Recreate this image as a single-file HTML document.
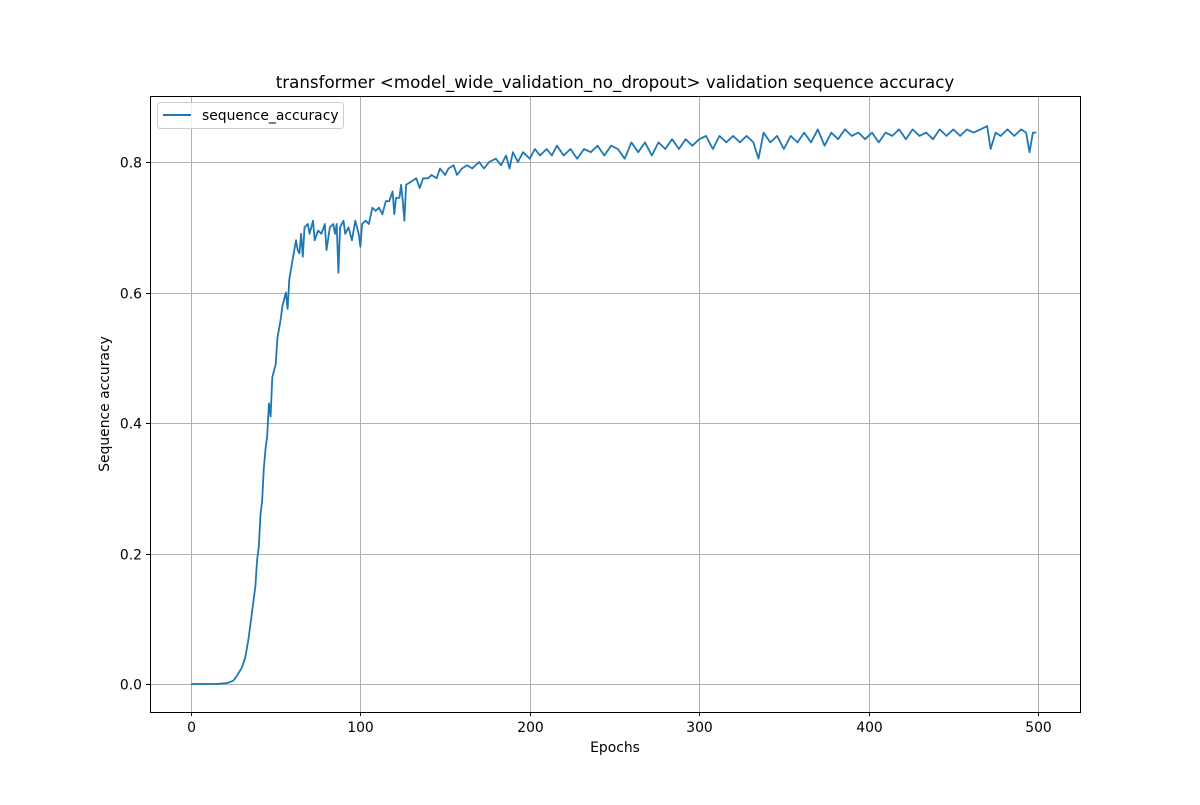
<!DOCTYPE html>
<html><head><meta charset="utf-8"><style>body{margin:0;background:#fff}svg text{font-family:"DejaVu Sans","Liberation Sans",sans-serif}</style></head>
<body>
<svg id="chart" width="1200" height="800">
<rect width="1200" height="800" fill="#fff"/>
<g id="grid"></g>
<path id="line" fill="none" stroke="#1f77b4" stroke-width="1.8" stroke-linejoin="round"/>
<rect x="150.5" y="96.5" width="930" height="616" fill="none" stroke="#000" stroke-width="1"/>
<g id="ticks"></g>
<text x="615" y="88" font-size="16.7" text-anchor="middle">transformer &lt;model_wide_validation_no_dropout&gt; validation sequence accuracy</text>
<text x="615" y="752" font-size="13.9" text-anchor="middle">Epochs</text>
<text transform="translate(109,404) rotate(-90)" font-size="13.9" text-anchor="middle">Sequence accuracy</text>
<g>
<rect x="157.5" y="102.5" width="186" height="26" rx="3" fill="#fff" fill-opacity="0.8" stroke="#ccc"/>
<line x1="163" y1="115" x2="191" y2="115" stroke="#1f77b4" stroke-width="2"/>
<text x="202" y="120" font-size="13.9">sequence_accuracy</text>
</g>
</svg>
<script>
const epochs=[0,5,10,15,20,22,25,27,30,32,34,36,38,39,40,41,42,43,44,45,46,47,48,50,51,53,54,56,57,58,60,62,63,64,65,66,67,69,70,72,73,75,77,79,80,82,84,85,86,87,88,90,91,93,95,97,99,100,101,103,105,107,109,111,113,115,117,119,120,121,123,124,125,126,127,130,133,135,137,140,142,145,147,150,152,155,157,160,163,166,170,173,176,180,183,186,188,190,193,196,200,203,206,210,213,216,220,224,228,232,236,240,244,248,252,256,260,264,268,272,276,280,284,288,292,296,300,304,308,312,316,320,324,328,332,335,338,342,346,350,354,358,362,366,370,374,378,382,386,390,394,398,402,406,410,414,418,422,426,430,434,438,442,446,450,454,458,462,466,470,472,475,478,482,486,490,493,495,497,499];
const accuracy=[0,0,0,0,0.001,0.002,0.005,0.012,0.025,0.04,0.07,0.11,0.15,0.19,0.21,0.26,0.28,0.33,0.36,0.38,0.43,0.41,0.47,0.49,0.53,0.56,0.58,0.60,0.575,0.62,0.65,0.68,0.665,0.66,0.69,0.655,0.70,0.705,0.69,0.71,0.68,0.695,0.69,0.705,0.665,0.70,0.705,0.69,0.705,0.63,0.70,0.71,0.69,0.70,0.68,0.71,0.69,0.67,0.705,0.71,0.705,0.73,0.725,0.73,0.72,0.74,0.74,0.755,0.72,0.745,0.745,0.765,0.74,0.71,0.765,0.77,0.775,0.76,0.775,0.775,0.78,0.775,0.79,0.78,0.79,0.795,0.78,0.79,0.795,0.79,0.80,0.79,0.80,0.805,0.795,0.81,0.79,0.815,0.80,0.815,0.805,0.82,0.81,0.82,0.81,0.825,0.81,0.82,0.805,0.82,0.815,0.825,0.81,0.825,0.82,0.805,0.83,0.815,0.83,0.81,0.83,0.82,0.835,0.82,0.835,0.825,0.835,0.84,0.82,0.84,0.83,0.84,0.83,0.84,0.83,0.805,0.845,0.83,0.84,0.82,0.84,0.83,0.845,0.83,0.85,0.825,0.845,0.835,0.85,0.84,0.845,0.835,0.845,0.83,0.845,0.84,0.85,0.835,0.85,0.84,0.845,0.835,0.85,0.84,0.85,0.84,0.85,0.845,0.85,0.855,0.82,0.845,0.84,0.85,0.84,0.85,0.845,0.815,0.845,0.845];
const xTicks=[0,100,200,300,400,500];
const yTicks=[0.0,0.2,0.4,0.6,0.8];
const NS='http://www.w3.org/2000/svg';
const xScale=v=>191+v*(847/500);
const yScale=v=>684-v*652.5;
const grid=document.getElementById('grid'),ticks=document.getElementById('ticks');
function mk(tag,attrs,parent){const e=document.createElementNS(NS,tag);for(const k in attrs)e.setAttribute(k,attrs[k]);parent.appendChild(e);return e;}
xTicks.forEach(t=>{const x=Math.round(xScale(t))+0.5;
const g=mk('line',{x1:x,x2:x,y1:96,y2:712,stroke:'#b0b0b0','stroke-width':1},grid);


mk('line',{x1:x,x2:x,y1:712,y2:716,stroke:'#000'},ticks);
const l=mk('text',{x:x,y:732,'font-size':13.9,'text-anchor':'middle'},ticks);l.textContent=t;

});
yTicks.forEach(t=>{const y=Math.round(yScale(t))+0.5;
const g=mk('line',{x1:150,x2:1080,y1:y,y2:y,stroke:'#b0b0b0','stroke-width':1},grid);


mk('line',{x1:146,x2:150,y1:y,y2:y,stroke:'#000'},ticks);
const l=mk('text',{x:142,y:y+5,'font-size':13.9,'text-anchor':'end'},ticks);l.textContent=t.toFixed(1);

});
document.getElementById('line').setAttribute('d',epochs.map((e,i)=>(i?'L':'M')+xScale(e).toFixed(1)+','+yScale(accuracy[i]).toFixed(1)).join(''));
</script>
</body></html>
